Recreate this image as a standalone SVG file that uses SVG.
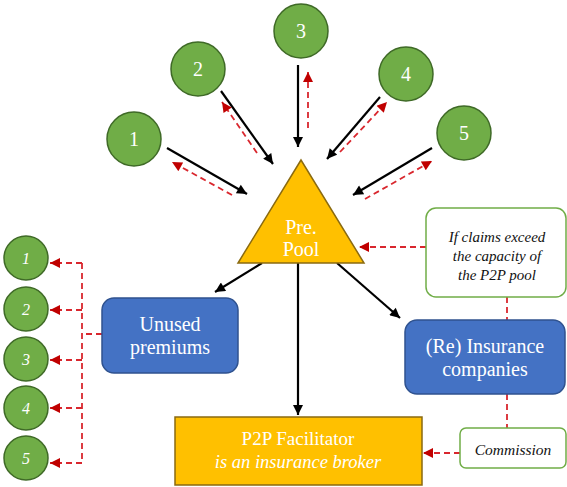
<svg xmlns="http://www.w3.org/2000/svg" width="567" height="487" viewBox="0 0 567 487">
<style>
.circ{fill:#70AD47;stroke:#3F6A27;stroke-width:1.5}
.num{font-family:'Liberation Serif','Times New Roman','DejaVu Serif',serif;font-size:20px;fill:#fff;text-anchor:middle}
.numi{font-family:'Liberation Serif','Times New Roman','DejaVu Serif',serif;font-size:16px;font-style:italic;fill:#fff;text-anchor:middle}
.blue{fill:#4472C4;stroke:#2F528F;stroke-width:1.5}
.orange{fill:#FFC000;stroke:#8A6A10;stroke-width:1.5}
.note{fill:#fff;stroke:#70AD47;stroke-width:1.5}
.wt{font-family:'Liberation Serif','Times New Roman','DejaVu Serif',serif;font-size:20px;fill:#fff;text-anchor:middle}
.nt{font-family:'Liberation Serif','Times New Roman','DejaVu Serif',serif;font-size:15px;font-style:italic;fill:#111;text-anchor:middle}
.blk{stroke:#000;stroke-width:2.2;fill:none;marker-end:url(#ab)}
.red{stroke:#D9272E;stroke-width:1.8;stroke-dasharray:6,4;fill:none}
.reda{stroke:#D9272E;stroke-width:1.8;stroke-dasharray:6,4;fill:none;marker-end:url(#ar)}
</style>
<defs>
<marker id="ab" viewBox="0 0 10 10" refX="10" refY="5" markerWidth="12" markerHeight="10" markerUnits="userSpaceOnUse" orient="auto"><path d="M0,0 L10,5 L0,10 z" fill="#000"/></marker>
<marker id="ar" viewBox="0 0 10 10" refX="10" refY="5" markerWidth="12" markerHeight="10" markerUnits="userSpaceOnUse" orient="auto"><path d="M0,0 L10,5 L0,10 z" fill="#C00000"/></marker>
</defs>

<g id="connectors">
<line class="blk" x1="167" y1="148" x2="247" y2="194"/>
<line class="reda" x1="232" y1="195" x2="172" y2="162"/>
<line class="blk" x1="221" y1="91" x2="273" y2="164"/>
<line class="reda" x1="257" y1="153" x2="222" y2="102"/>
<line class="blk" x1="298" y1="65" x2="298" y2="147"/>
<line class="reda" x1="308" y1="128" x2="308" y2="72"/>
<line class="blk" x1="380" y1="97" x2="327" y2="159"/>
<line class="reda" x1="340" y1="152" x2="387" y2="102"/>
<line class="blk" x1="432" y1="148" x2="353" y2="195"/>
<line class="reda" x1="365" y1="199" x2="432" y2="161"/>
<line class="blk" x1="262" y1="263" x2="215" y2="292"/>
<line class="blk" x1="337" y1="263" x2="400" y2="318"/>
<line class="blk" x1="298" y1="263" x2="298" y2="415"/>
<line class="reda" x1="426" y1="247" x2="359" y2="247"/>
<line class="red" x1="507" y1="297" x2="507" y2="320"/>
<line class="red" x1="507" y1="394" x2="507" y2="428"/>
<line class="reda" x1="460" y1="453" x2="423" y2="453"/>
<polyline class="red" points="102,334 82,334"/>
<line class="red" x1="82" y1="263" x2="82" y2="463"/>
<line class="reda" x1="82" y1="263" x2="50" y2="263"/>
<line class="reda" x1="82" y1="310" x2="50" y2="310"/>
<line class="reda" x1="82" y1="360" x2="50" y2="360"/>
<line class="reda" x1="82" y1="408" x2="50" y2="408"/>
<line class="reda" x1="82" y1="463" x2="50" y2="463"/>
</g>

<g id="c1"><circle class="circ" cx="134" cy="139" r="27"/><text class="num" x="134" y="146">1</text></g>
<g id="c2"><circle class="circ" cx="198" cy="69" r="27"/><text class="num" x="198" y="76">2</text></g>
<g id="c3"><circle class="circ" cx="301" cy="31" r="27"/><text class="num" x="301" y="38">3</text></g>
<g id="c4"><circle class="circ" cx="406" cy="74" r="27"/><text class="num" x="406" y="81">4</text></g>
<g id="c5"><circle class="circ" cx="464" cy="133" r="27"/><text class="num" x="464" y="140">5</text></g>

<g id="pool"><polygon class="orange" points="301,160 238,263 364,263"/><text class="wt" x="301" y="234">Pre.</text><text class="wt" x="301" y="256">Pool</text></g>

<g id="note"><rect class="note" x="426" y="208" width="140" height="89" rx="10"/><text class="nt" x="497" y="242">If claims exceed</text><text class="nt" x="497" y="261">the capacity of</text><text class="nt" x="497" y="280">the P2P pool</text></g>

<g id="unused"><rect class="blue" x="102" y="298" width="136" height="75" rx="12"/><text class="wt" x="170" y="331">Unused</text><text class="wt" x="170" y="354">premiums</text></g>

<g id="reins"><rect class="blue" x="405" y="320" width="160" height="74" rx="12"/><text class="wt" x="485" y="353">(Re) Insurance</text><text class="wt" x="485" y="376">companies</text></g>

<g id="facilitator"><rect class="orange" x="175" y="417" width="247" height="68"/><text class="wt" x="298" y="445" style="font-size:19px">P2P Facilitator</text><text class="wt" x="298" y="468" style="font-size:18.5px;font-style:italic">is an insurance broker</text></g>

<g id="commission"><rect class="note" x="460" y="428" width="106" height="40" rx="6"/><text class="nt" x="513" y="455" style="font-size:15.5px">Commission</text></g>

<g id="l1"><circle class="circ" cx="26" cy="258" r="22"/><text class="numi" x="26" y="264">1</text></g>
<g id="l2"><circle class="circ" cx="26" cy="309" r="22"/><text class="numi" x="26" y="315">2</text></g>
<g id="l3"><circle class="circ" cx="26" cy="359" r="22"/><text class="numi" x="26" y="365">3</text></g>
<g id="l4"><circle class="circ" cx="26" cy="408" r="22"/><text class="numi" x="26" y="414">4</text></g>
<g id="l5"><circle class="circ" cx="26" cy="458" r="22"/><text class="numi" x="26" y="464">5</text></g>
</svg>
